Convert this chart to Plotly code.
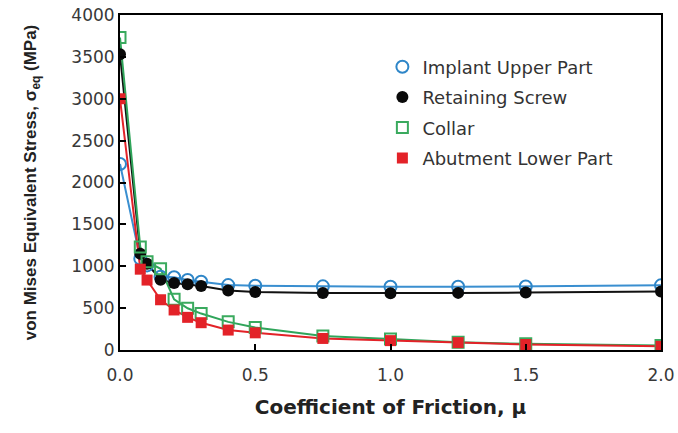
import plotly.graph_objects as go

mu = [0, 0.075, 0.1, 0.15, 0.2, 0.25, 0.3, 0.4, 0.5, 0.75, 1.0, 1.25, 1.5, 2.0]
implant_upper = [2220, 1090, 1010, 875, 868, 835, 815, 775, 768, 760, 755, 755, 758, 772]
retaining_screw = [3530, 1150, 1030, 840, 800, 785, 765, 710, 692, 680, 678, 682, 686, 698]
collar = [3730, 1230, 1055, 970, 605, 498, 435, 336, 270, 168, 130, 92, 74, 55]
abutment_lower = [3000, 965, 835, 600, 478, 390, 326, 238, 205, 138, 112, 88, 66, 44]

names = ["Implant Upper Part", "Retaining Screw", "Collar", "Abutment Lower Part"]
series = [implant_upper, retaining_screw, collar, abutment_lower]
line_colors = ["#3a8fd0", "#111111", "#2fa55a", "#e32228"]
markers = [
    dict(symbol="circle-open", color="#2e86c8", size=12, line=dict(width=2, color="#2e86c8")),
    dict(symbol="circle", color="#0a0a0a", size=12, line=dict(width=0)),
    dict(symbol="square-open", color="#3aaa5e", size=11, line=dict(width=2, color="#3aaa5e")),
    dict(symbol="square", color="#e32228", size=11, line=dict(width=0)),
]

fig = go.Figure()
for s, c in zip(series, line_colors):
    fig.add_trace(go.Scatter(x=mu, y=s, mode="lines", line=dict(color=c, width=2),
                             showlegend=False, hoverinfo="skip"))
for i, (n, s, m) in enumerate(zip(names, series, markers)):
    fig.add_trace(go.Scatter(x=mu, y=s, mode="markers", marker=m, name=n,
                             legendgroup="g%d" % i))

font = "DejaVu Sans, sans-serif"
fig.update_layout(
    width=678, height=433,
    margin=dict(l=120, r=17, t=15, b=83),
    paper_bgcolor="white", plot_bgcolor="white",
    font=dict(family=font, size=17, color="#383838"),
    legend=dict(x=0.485, y=0.9, xanchor="left", yanchor="top",
                bgcolor="rgba(0,0,0,0)", tracegroupgap=4,
                font=dict(size=18, color="#333333")),
    xaxis=dict(range=[0, 2.0], tickvals=[0, 0.5, 1.0, 1.5, 2.0],
               ticktext=["0.0", "0.5", "1.0", "1.5", "2.0"],
               ticks="inside", ticklen=6, tickwidth=2, tickcolor="black",
               showline=True, linecolor="black", linewidth=2, mirror=True,
               showgrid=False, zeroline=False, automargin=False,
               ticklabeloverflow="allow", ticklabelstandoff=9,
               title=dict(text="<b>Coefficient of Friction, μ</b>", standoff=16,
                          font=dict(family=font, size=20, color="#222222"))),
    yaxis=dict(range=[0, 4000], tickvals=list(range(0, 4001, 500)),
               ticks="inside", ticklen=6, tickwidth=2, tickcolor="black",
               showline=True, linecolor="black", linewidth=2, mirror=True,
               showgrid=False, zeroline=False, automargin=False,
               ticklabeloverflow="allow",
               title=dict(text="<b>von Mises Equivalent Stress, σ<sub>eq</sub> (MPa)</b>",
                          standoff=30,
                          font=dict(family="Liberation Sans, Arial, sans-serif",
                                    size=17, color="#222222"))),
)

fig.write_html(
    "out.html",
    config={"displayModeBar": False},
    post_script="document.body.style.margin='0';document.body.style.overflow='hidden';",
)
